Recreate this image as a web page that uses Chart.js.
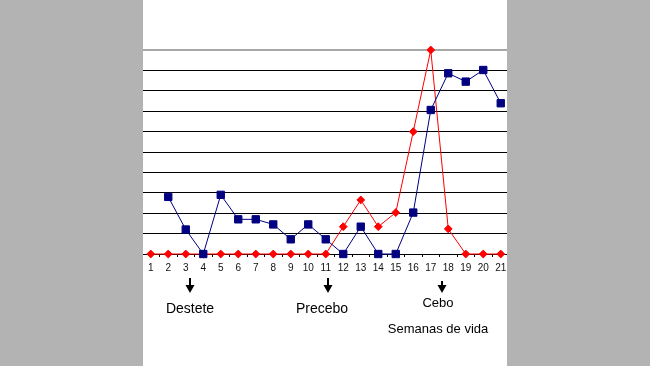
<!DOCTYPE html>
<html>
<head>
<meta charset="utf-8">
<script src="https://cdn.jsdelivr.net/npm/chart.js@4/dist/chart.umd.min.js"></script>
<style>
  html, body { margin: 0; padding: 0; background: #b3b3b3; }
  #wrap { position: relative; width: 650px; height: 366px; }
  canvas { display: block; }
</style>
</head>
<body>
<div id="wrap"><canvas id="c" width="650" height="366"></canvas></div>
<script>
// ---- data ----
const weeks = ['1','2','3','4','5','6','7','8','9','10','11','12','13','14','15','16','17','18','19','20','21'];
const blueSeries = [null, 2.8, 1.2, 0, 2.9, 1.7, 1.7, 1.45, 0.72, 1.45, 0.72, 0, 1.34, 0, 0, 2.03, 7.06, 8.86, 8.45, 9.02, 7.39];
const redSeries  = [0, 0, 0, 0, 0, 0, 0, 0, 0, 0, 0, 1.34, 2.65, 1.34, 2.03, 6.0, 10, 1.23, 0, 0, 0];
const yTicks = [0, 1, 2, 3, 4, 5, 6, 7, 8, 9, 10];
// stage annotations: label and position along the week axis (0-based category index)
const stageLabels = ['Destete', 'Precebo', 'Cebo'];
const stagePositions = [2.23, 10.15, 16.65];
const axisTitle = 'Semanas de vida';

const FONT = '"Liberation Sans", Arial, sans-serif';

const decor = {
  id: 'decor',
  beforeDraw(chart) {
    const ctx = chart.ctx;
    ctx.save();
    ctx.fillStyle = '#ffffff';
    ctx.fillRect(143, 0, 364, chart.height);
    ctx.restore();
  },
  afterDraw(chart) {
    const ctx = chart.ctx;
    const xs = chart.scales.x;
    ctx.save();
    // side panels
    ctx.fillStyle = '#b3b3b3';
    ctx.fillRect(0, 0, 143, chart.height);
    ctx.fillRect(507, 0, chart.width - 507, chart.height);
    // arrows + stage labels
    ctx.fillStyle = '#000';
    ctx.strokeStyle = '#000';
    stageLabels.forEach((lab, i) => {
      const x = Math.round(xs.getPixelForValue(stagePositions[i]));
      const top = i === 2 ? 281 : 278;
      ctx.fillRect(x - 1, top, 2, 286 - top);
      ctx.beginPath();
      ctx.moveTo(x - 4.5, 285);
      ctx.lineTo(x + 4.5, 285);
      ctx.lineTo(x, 293);
      ctx.closePath();
      ctx.fill();
      ctx.textAlign = 'center';
      ctx.textBaseline = 'alphabetic';
      if (i === 2) {
        ctx.font = '13px ' + FONT;
        ctx.fillText(lab, x - 4, 307);
      } else {
        ctx.font = '14px ' + FONT;
        ctx.fillText(lab, x - (i === 1 ? 6 : 0), 312.5);
      }
    });
    ctx.font = '13px ' + FONT;
    ctx.textAlign = 'center';
    ctx.fillText(axisTitle, Math.round(xs.getPixelForValue(stagePositions[2])) - 4, 333);
    ctx.restore();
  }
};

new Chart(document.getElementById('c'), {
  type: 'line',
  data: {
    labels: weeks,
    datasets: [
      {
        data: blueSeries,
        borderColor: '#000080',
        backgroundColor: '#000080',
        borderWidth: 1,
        pointStyle: 'rect',
        pointRadius: 5.2,
        pointBorderWidth: 1,
        tension: 0,
        fill: false,
        clip: false
      },
      {
        data: redSeries,
        borderColor: '#ff0000',
        backgroundColor: '#ff0000',
        borderWidth: 1,
        pointStyle: 'rectRot',
        pointRadius: 3.9,
        pointBorderWidth: 1,
        tension: 0,
        fill: false,
        clip: false
      }
    ]
  },
  options: {
    responsive: false,
    animation: false,
    events: [],
    layout: { padding: { left: 142, right: 140.5, top: 50, bottom: 92 } },
    plugins: { legend: { display: false }, tooltip: { enabled: false } },
    scales: {
      x: {
        type: 'category',
        offset: true,
        grid: { display: true, offset: true, drawOnChartArea: false, drawTicks: true, tickLength: 3, color: '#000', lineWidth: 1 },
        border: { display: true, color: '#000', width: 1 },
        ticks: { color: '#111', font: { family: FONT, size: 10 }, padding: 5, maxRotation: 0, autoSkip: false },
        afterFit(s) { s.height = 20; }
      },
      y: {
        min: 0, max: 10,
        afterBuildTicks(s) { s.ticks = yTicks.map(v => ({ value: v })); },
        ticks: { display: false },
        grid: {
          drawTicks: false,
          color: (c) => c.tick && c.tick.value === 10 ? '#a8a8a8' : '#000',
          lineWidth: (c) => c.tick && c.tick.value === 10 ? 2 : 1
        },
        border: { display: false },
        afterFit(s) { s.width = 0; }
      }
    }
  },
  plugins: [decor]
});
</script>
</body>
</html>
